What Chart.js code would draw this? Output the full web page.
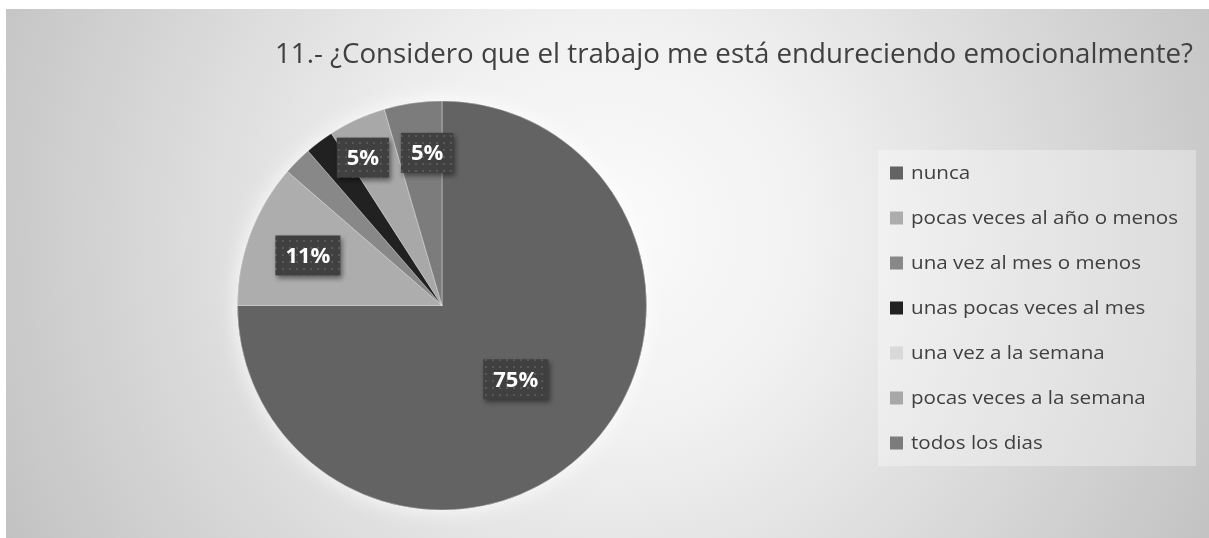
<!DOCTYPE html>
<html><head><meta charset="utf-8">
<script src="https://cdn.jsdelivr.net/npm/chart.js@4/dist/chart.umd.min.js"></script>
<style>html,body{margin:0;padding:0;background:#fff;overflow:hidden}canvas{display:block}</style>
</head><body>
<canvas id="c" width="1209" height="538"></canvas>
<script>
const titleText = "11.- ¿Considero que el trabajo me está endureciendo emocionalmente?";
const categories = ["nunca","pocas veces al año o menos","una vez al mes o menos","unas pocas veces al mes","una vez a la semana","pocas veces a la semana","todos los dias"];
const responses = [33, 5, 1, 1, 0, 2, 2];
const sliceColors = ["#636363","#adadad","#888888","#212121","#d9d9d9","#a8a8a8","#7c7c7c"];
// label placement (style): radial fraction and angular nudge in degrees
const labelRadius = [0.51, 0.70, 0.7, 0.7, 0.7, 0.82, 0.75];
const labelNudge = [0, 0, 0, 0, 0, -3.6, 2.6];

const FONT = "'Open Sans', 'DejaVu Sans', sans-serif";

function fittedText(ctx, text, x, y, size, weight, targetW) {
  ctx.save();
  ctx.font = weight + " " + size + "px " + FONT;
  const w = ctx.measureText(text).width;
  const s = targetW ? targetW / w : 1;
  ctx.translate(x, y);
  ctx.scale(s, 1);
  ctx.fillText(text, 0, 0);
  ctx.restore();
}

const bgPlugin = {
  id: 'bg',
  beforeDraw(chart) {
    const ctx = chart.ctx;
    ctx.save();
    ctx.fillStyle = '#ffffff';
    ctx.fillRect(0, 0, chart.width, chart.height);
    const g = ctx.createRadialGradient(610, 230, 0, 610, 230, 680);
    g.addColorStop(0, '#fbfbfb');
    g.addColorStop(0.3, '#f1f1f1');
    g.addColorStop(1, '#c2c2c2');
    ctx.fillStyle = g;
    ctx.fillRect(6, 9, chart.width - 6, chart.height - 9);
    // legend panel
    ctx.fillStyle = 'rgba(255,255,255,0.32)';
    ctx.fillRect(878, 150, 318, 316);
    // title
    ctx.fillStyle = '#404040';
    ctx.textBaseline = 'alphabetic';
    ctx.textAlign = 'left';
    fittedText(ctx, titleText, 275, 63, 26.5, 'normal', 918);
    // legend
    ctx.font = "normal 18.5px " + FONT;
    let maxW = 0;
    categories.forEach(c => { maxW = Math.max(maxW, ctx.measureText(c).width); });
    const sc = 267 / maxW;
    categories.forEach((c, i) => {
      const cy = 173 + 45 * i;
      ctx.fillStyle = sliceColors[i];
      ctx.fillRect(890, cy - 6.5, 13, 13);
      ctx.fillStyle = '#404040';
      ctx.textBaseline = 'middle';
      ctx.save();
      ctx.translate(911, cy + 1);
      ctx.scale(sc, 1);
      ctx.font = "normal 18.5px " + FONT;
      ctx.fillText(c, 0, 0);
      ctx.restore();
    });
    ctx.restore();
  },
  beforeDatasetsDraw(chart) {
    const arc = chart.getDatasetMeta(0).data[0];
    if (!arc) return;
    const ctx = chart.ctx;
    ctx.save();
    ctx.shadowColor = 'rgba(255,255,255,0.9)';
    ctx.shadowBlur = 22;
    ctx.fillStyle = '#888888';
    ctx.beginPath();
    ctx.arc(arc.x, arc.y, arc.outerRadius, 0, Math.PI * 2);
    ctx.fill();
    ctx.restore();
  }
};

function makePattern(ctx) {
  const p = document.createElement('canvas');
  p.width = 7; p.height = 7;
  const pc = p.getContext('2d');
  pc.fillStyle = '#404040';
  pc.fillRect(0, 0, 7, 7);
  pc.fillStyle = '#585858';
  pc.fillRect(2, 2, 2, 2);
  return ctx.createPattern(p, 'repeat');
}

const labelPlugin = {
  id: 'pctLabels',
  afterDatasetsDraw(chart) {
    const ctx = chart.ctx;
    const meta = chart.getDatasetMeta(0);
    const total = responses.reduce((a, b) => a + b, 0);
    const pat = makePattern(ctx);
    meta.data.forEach((arc, i) => {
      const pct = responses[i] / total * 100;
      if (pct < 3) return;
      const txt = Math.round(pct) + '%';
      const mid = (arc.startAngle + arc.endAngle) / 2 + labelNudge[i] * Math.PI / 180;
      const r = arc.outerRadius * labelRadius[i];
      const x = arc.x + Math.cos(mid) * r;
      const y = arc.y + Math.sin(mid) * r;
      ctx.save();
      ctx.font = "bold 22px " + FONT;
      const tw = ctx.measureText(txt).width;
      const bw = tw + 20, bh = 40;
      ctx.shadowColor = 'rgba(0,0,0,0.45)';
      ctx.shadowBlur = 5;
      ctx.shadowOffsetX = 2;
      ctx.shadowOffsetY = 3;
      ctx.fillStyle = pat;
      ctx.fillRect(x - bw / 2, y - bh / 2, bw, bh);
      ctx.shadowColor = 'transparent';
      ctx.fillStyle = '#ffffff';
      ctx.textAlign = 'center';
      ctx.textBaseline = 'middle';
      ctx.fillText(txt, x, y + 1);
      ctx.restore();
    });
  }
};

new Chart(document.getElementById('c'), {
  type: 'pie',
  data: {
    labels: categories,
    datasets: [{
      data: responses,
      backgroundColor: sliceColors,
      borderColor: 'rgba(255,255,255,0.35)',
      borderWidth: 1
    }]
  },
  options: {
    responsive: false,
    animation: false,
    layout: { padding: { left: 237, right: 562, top: 100, bottom: 27 } },
    plugins: {
      legend: { display: false },
      title: { display: false },
      tooltip: { enabled: false }
    }
  },
  plugins: [bgPlugin, labelPlugin]
});
</script>
</body></html>
